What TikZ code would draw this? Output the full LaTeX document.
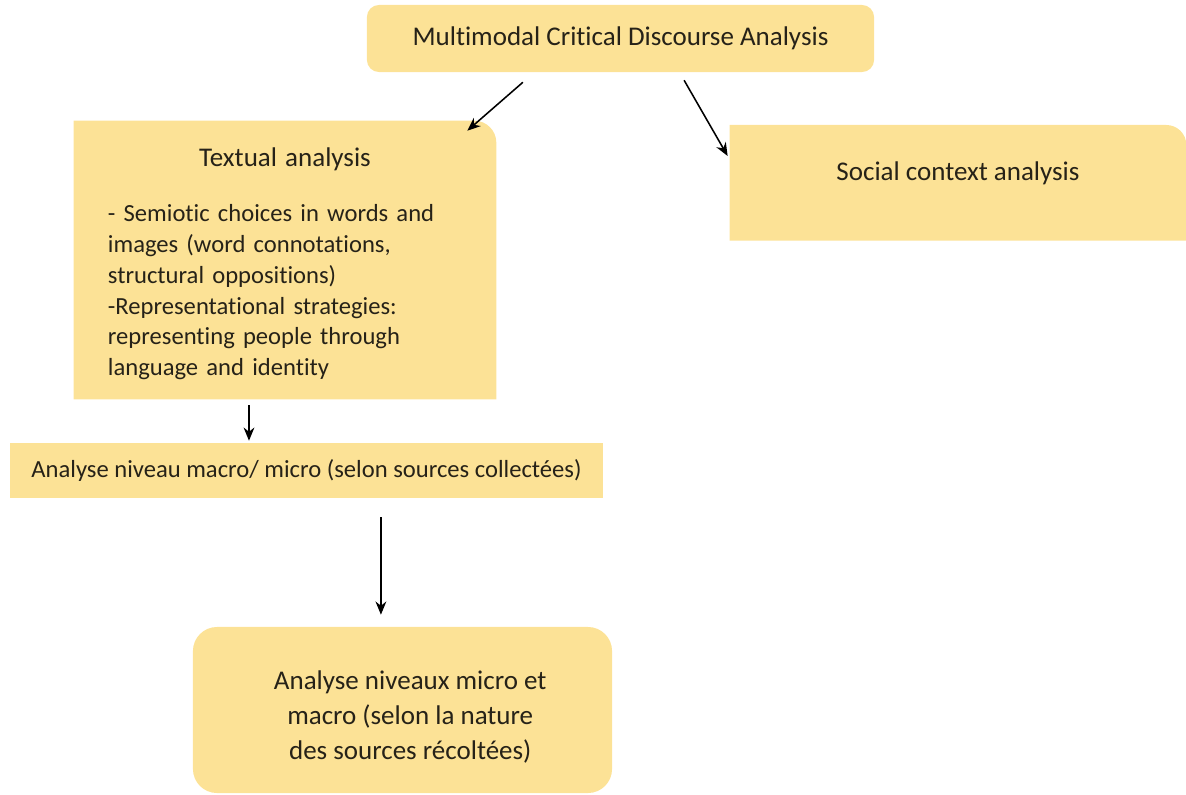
\documentclass[tikz,border=0pt]{standalone}
\usepackage{fontspec}
\setmainfont{Carlito}[Ligatures=NoCommon]
\usetikzlibrary{arrows.meta,backgrounds}
\definecolor{boxfill}{RGB}{252,226,150}
\definecolor{inkc}{RGB}{38,34,24}
\tikzset{
  headfont/.style = {font=\fontsize{19.2pt}{24.9pt}\selectfont},
  bodyfont/.style = {font=\fontsize{17.5pt}{22pt}\selectfont},
  mmbox/.style    = {fill=boxfill,text=inkc,inner sep=0pt},
  openbox/.style  = {text=inkc,inner sep=0pt},
  flowarr/.style  = {-{Stealth[length=3.3mm,width=2.7mm]},line width=1.1pt,black}
}

\begin{document}
\begin{tikzpicture}[x=0.025cm,y=0.025cm]
  \useasboundingbox (0,0) rectangle (1186,-795);
  \node[mmbox,headfont,rounded corners=0.3cm,minimum width=12.675cm,minimum height=1.675cm]
    (mcda) at (620.5,-38.5) {Multimodal Critical Discourse Analysis};
  \node[openbox,bodyfont,minimum width=10.55cm,minimum height=6.95cm,text width=8.85cm,align=left]
    (txt) at (285,-260) {{\centering\fontsize{19.2pt}{24pt}\selectfont\rule{0pt}{19pt}Textual analysis\par}\vspace{16.85pt}
    - Semiotic choices in words and\\ images (word connotations,\\ structural oppositions)\\
    -Representational strategies:\\ representing people through\\ language and identity};
  \node[openbox,headfont,anchor=north,minimum width=11.4cm,text height=1.375cm,text depth=1.5cm]
    (soc) at (958,-125) {Social context analysis};
  \node[mmbox,bodyfont,minimum width=14.825cm,minimum height=1.375cm]
    (mid) at (306.5,-470.5) {Analyse niveau macro/ micro (selon sources collectées)};
  \node[mmbox,headfont,rounded corners=0.6cm,minimum width=10.475cm,minimum height=4.15cm,align=center]
    (bot) at (402.5,-710) {\rule{0pt}{23.5pt}\hspace*{11pt}Analyse niveaux micro et\\ \hspace*{11pt}macro (selon la nature\\ \hspace*{11pt}des sources récoltées)};

  % boxes with one round corner
  \begin{scope}[on background layer]
    \fill[boxfill] (txt.south west) -- (txt.north west) -- ([xshift=-0.55cm]txt.north east)
      arc[start angle=90,end angle=0,radius=0.55cm] -- (txt.south east) -- cycle;
    \fill[boxfill] (soc.south west) -- (soc.north west) -- ([xshift=-0.5cm]soc.north east)
      arc[start angle=90,end angle=0,radius=0.5cm] -- (soc.south east) -- cycle;
  \end{scope}

  \draw[flowarr] ([xshift=-2.44cm,yshift=-0.25cm]mcda.south) -- ([xshift=-0.725cm,yshift=-0.25cm]txt.north east);
  \draw[flowarr] ([xshift=1.59cm,yshift=-0.2cm]mcda.south) -- ([xshift=-0.05cm,yshift=-0.775cm]soc.north west);
  \coordinate (tx1) at ([xshift=-0.9cm,yshift=-0.15cm]txt.south);
  \draw[flowarr,shorten >=0.05cm] (tx1) -- (tx1 |- mid.north);
  \coordinate (md1) at ([xshift=1.86cm,yshift=-0.475cm]mid.south);
  \draw[flowarr,shorten >=0.3cm] (md1) -- (md1 |- bot.north);
\end{tikzpicture}
\end{document}
